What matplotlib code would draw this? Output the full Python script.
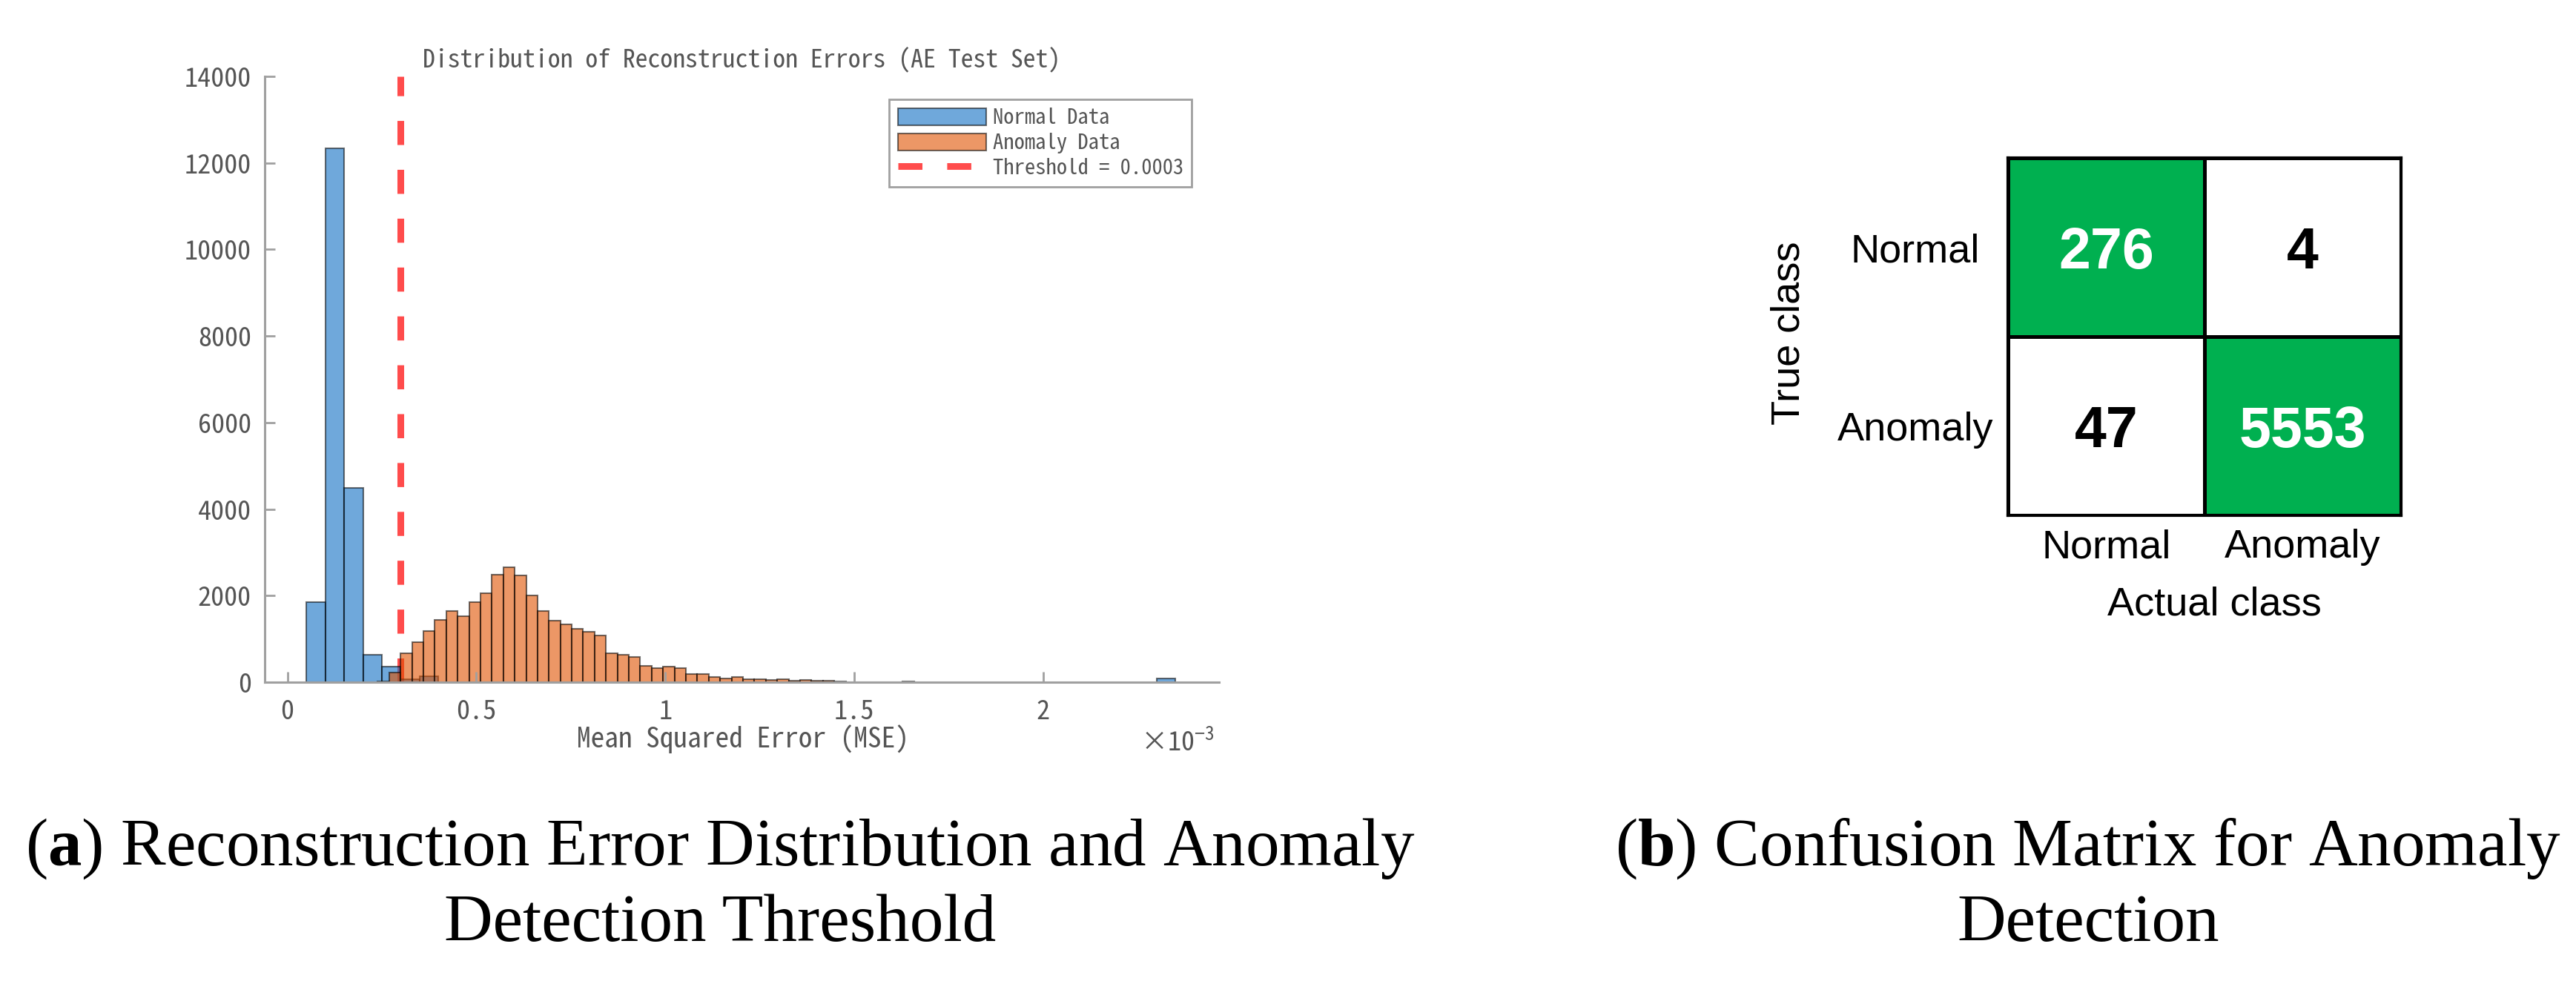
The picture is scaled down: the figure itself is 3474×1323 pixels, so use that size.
import numpy as np
import matplotlib
matplotlib.use("Agg")
import matplotlib.pyplot as plt
from matplotlib.colors import ListedColormap

# ---------------- data ----------------
# Reconstruction-error histograms (x values in units of 1e-3 MSE)
normal_bin_width = 0.05
normal_bin_lefts = [0.05, 0.10, 0.15, 0.20, 0.25, 0.30, 0.35, 2.30]
normal_counts = [1844, 12343, 4490, 640, 354, 70, 140, 80]

anomaly_bin_start = 0.239
anomaly_bin_width = 0.0302
anomaly_counts = [20, 230, 665, 920, 1175, 1436, 1650, 1530, 1850, 2050,
                  2477, 2650, 2467, 2008, 1640, 1425, 1330, 1233, 1165, 1087,
                  660, 632, 575, 378, 321, 367, 321, 197, 197, 113,
                  85, 124, 68, 68, 56, 68, 30, 56, 30, 40,
                  15, 0, 0, 0, 0, 0, 10]

threshold = 0.3          # x1e-3  -> 0.0003
hist_labels = ["Normal Data", "Anomaly Data"]
threshold_label = "Threshold = 0.0003"
hist_title = "Distribution of Reconstruction Errors (AE Test Set)"
hist_xlabel = "Mean Squared Error (MSE)"
x_ticks = [0, 0.5, 1, 1.5, 2]
x_tick_labels = ["0", "0.5", "1", "1.5", "2"]
y_ticks = [0, 2000, 4000, 6000, 8000, 10000, 12000, 14000]
y_tick_labels = ["0", "2000", "4000", "6000", "8000", "10000", "12000", "14000"]

# Confusion matrix (rows: True class, columns: Actual class)
cm_classes = ["Normal", "Anomaly"]
cm_values = [[276, 4],
             [47, 5553]]

caption_a = [r"($\mathbf{a}$) Reconstruction Error Distribution and Anomaly",
             "Detection Threshold"]
caption_b = [r"($\mathbf{b}$) Confusion Matrix for Anomaly",
             "Detection"]

# ---------------- style ----------------
mono = ['Noto Sans Mono CJK JP', 'Noto Sans CJK JP', 'DejaVu Sans']
plt.rcParams['font.family'] = mono
plt.rcParams['mathtext.fontset'] = 'custom'
plt.rcParams['mathtext.rm'] = 'Liberation Serif'
plt.rcParams['mathtext.bf'] = 'Liberation Serif:bold'

W, H = 3474, 1323
fig = plt.figure(figsize=(W / 100, H / 100), dpi=100)
renderer = fig.canvas.get_renderer()


def fig_rect(x0, y0, x1, y1):
    return [x0 / W, 1 - y1 / H, (x1 - x0) / W, (y1 - y0) / H]


def size_for(s, target_px, **kw):
    t = fig.text(0, 0, s, fontsize=20, **kw)
    w = t.get_window_extent(renderer).width
    t.remove()
    return 20 * target_px / w


def fit(t, target):
    w = t.get_window_extent(renderer).width
    t.set_fontsize(t.get_fontsize() * target / w)


txt_gray = '#555555'
axis_gray = '#a0a0a0'
blue = (0.06, 0.43, 0.765, 0.6)
orange = (0.88, 0.32, 0.0, 0.6)
edge = (0, 0, 0, 0.55)

tick_fs = size_for("14000", 91)
leg_fs = size_for(threshold_label, 258)

# ---------------- left: histogram ----------------
ax = fig.add_axes(fig_rect(357, 103, 1644, 920))
anomaly_lefts = anomaly_bin_start + anomaly_bin_width * np.arange(len(anomaly_counts))

thr_line = ax.axvline(threshold, color=(1, 0, 0, 0.7), lw=6.5, dashes=(3.6, 3.7),
                      zorder=0.5, label=threshold_label)
b1 = ax.bar(normal_bin_lefts, normal_counts, width=normal_bin_width, align='edge',
            facecolor=blue, edgecolor=edge, linewidth=1.5, label=hist_labels[0], zorder=1)
b2 = ax.bar(anomaly_lefts, anomaly_counts, width=anomaly_bin_width, align='edge',
            facecolor=orange, edgecolor=edge, linewidth=1.5, label=hist_labels[1], zorder=1.1)

ax.set_xlim(-0.06, 2.465)
ax.set_ylim(0, 14000)
ax.set_xticks(x_ticks, x_tick_labels)
ax.set_yticks(y_ticks, y_tick_labels)
for s in ['top', 'right']:
    ax.spines[s].set_visible(False)
for s in ['left', 'bottom']:
    ax.spines[s].set_color(axis_gray)
    ax.spines[s].set_linewidth(2.2)
ax.tick_params(direction='in', length=10, width=2, color=axis_gray,
               labelcolor=txt_gray, labelsize=tick_fs)
ax.tick_params(axis='x', pad=16)
ax.tick_params(axis='y', pad=13)

title = ax.set_title(hist_title, fontsize=24, color=txt_gray, pad=0,
                     y=1.0 + (103 - 80.5) / 817, va='center')
xl = ax.set_xlabel(hist_xlabel, fontsize=26, color=txt_gray)
xl.set_va('center')
ax.xaxis.set_label_coords(0.501, (920 - 997) / 817)

ax.text(0.995, (920 - 1012) / 817, '×10$^{\\mathregular{-3}}$', transform=ax.transAxes,
        ha='right', va='baseline', fontsize=tick_fs, color=txt_gray)

leg = ax.legend([b1, b2, thr_line], [hist_labels[0], hist_labels[1], threshold_label],
                loc='upper right', bbox_to_anchor=(0.9713, 0.962), borderaxespad=0,
                fancybox=False, edgecolor=axis_gray, framealpha=1, fontsize=leg_fs,
                handlelength=119 / (leg_fs * 100 / 72), handleheight=0.85,
                handletextpad=0.3, labelspacing=0.2, borderpad=0.4,
                labelcolor=txt_gray)
leg.get_frame().set_linewidth(2)

# ---------------- right: confusion matrix ----------------
ax2 = fig.add_axes(fig_rect(2708, 213, 3238, 695))
n = len(cm_classes)
correct = np.array([[float(i == j) for j in range(n)] for i in range(n)])
edges_cm = np.arange(n + 1) - 0.5
ax2.pcolormesh(edges_cm, edges_cm, correct,
               cmap=ListedColormap(['white', '#00B050']),
               edgecolors='black', linewidth=2.2)
ax2.set_xlim(-0.5, n - 0.5)
ax2.set_ylim(n - 0.5, -0.5)
for i in range(n):
    for j in range(n):
        ax2.text(j, i, str(cm_values[i][j]), ha='center', va='center_baseline',
                 fontsize=55.5, fontweight='bold', family='Liberation Sans',
                 color='white' if i == j else 'black')
for s in ax2.spines.values():
    s.set_linewidth(3)
    s.set_color('black')
ax2.set_xticks(range(n), cm_classes, family='Liberation Sans')
ax2.set_yticks(range(n), cm_classes, family='Liberation Sans', ha='center')
ax2.tick_params(length=0, labelsize=39, labelcolor='black')
ax2.tick_params(axis='y', pad=90)
ax2.tick_params(axis='x', pad=13)
ax2.set_xlabel('Actual class', fontsize=39, family='Liberation Sans', color='black')
ax2.xaxis.set_label_coords(0.525, -0.199)
ax2.set_ylabel('True class', fontsize=39, family='Liberation Sans', color='black')
ax2.yaxis.label.set_va('center')
ax2.yaxis.set_label_coords(-0.557, 0.510)

# ---------------- captions ----------------
cap_kw = dict(ha='center', va='baseline', family='Liberation Serif', color='black', fontsize=60)
ca1 = fig.text(971 / W, 1 - 1167 / H, caption_a[0], **cap_kw)
ca2 = fig.text(971 / W, 1 - 1269 / H, caption_a[1], **cap_kw)
cb1 = fig.text(2816 / W, 1 - 1167 / H, caption_b[0], **cap_kw)
cb2 = fig.text(2816 / W, 1 - 1269 / H, caption_b[1], **cap_kw)

fit(ca1, 1877)
for t in (ca2, cb1, cb2):
    t.set_fontsize(ca1.get_fontsize())
fit(title, 861)
fit(xl, 448)

fig.savefig('out.png', dpi=100)
